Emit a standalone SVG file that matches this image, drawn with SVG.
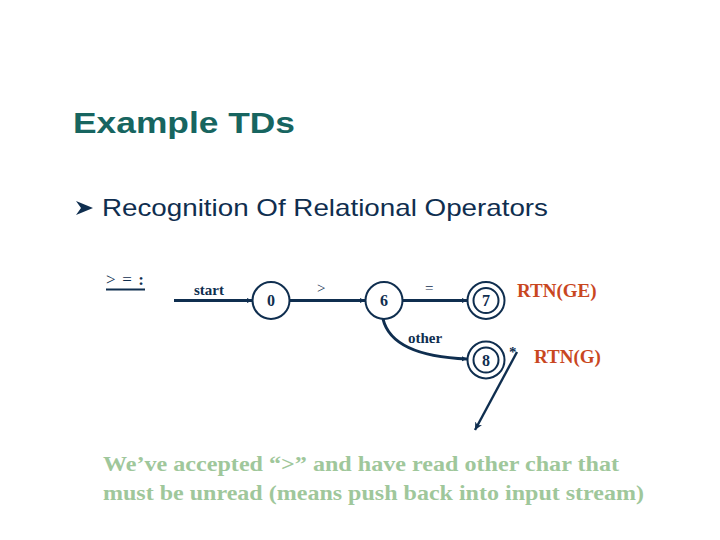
<svg xmlns="http://www.w3.org/2000/svg" width="720" height="540" viewBox="0 0 720 540">
<defs>
<marker id="ah" viewBox="0 0 10 10" refX="10" refY="5" markerWidth="1.8" markerHeight="1.8" orient="auto" markerUnits="strokeWidth">
<path d="M0,0 L10,5 L0,10 z" fill="#0f2e4f"/>
</marker>
<marker id="ah2" viewBox="0 0 10 10" refX="10" refY="5" markerWidth="3.2" markerHeight="3.2" orient="auto" markerUnits="strokeWidth">
<path d="M0,0 L10,5 L0,10 L3,5 z" fill="#0f2e4f"/>
</marker>
<style>
.edge{fill:none;stroke:#0f2e4f;stroke-width:3}
.st{fill:#fff;stroke:#0f2e4f;stroke-width:2}
.lbl{font-family:"Liberation Serif",serif;font-size:15px;fill:#0f2e4f}
.num{font-family:"Liberation Serif",serif;font-size:16px;font-weight:bold;fill:#0f2e4f;text-anchor:middle}
.rtn{font-family:"Liberation Serif",serif;font-size:19px;font-weight:bold;fill:#c9471f}
.note{font-family:"Liberation Serif",serif;font-size:22px;font-weight:bold;fill:#9fc79b}
</style>
</defs>
<rect width="720" height="540" fill="#fff"/>
<text x="73" y="133" font-family="Liberation Sans,Arial,sans-serif" font-size="30" font-weight="bold" fill="#176560" textLength="222" lengthAdjust="spacingAndGlyphs">Example TDs</text>
<path d="M76,201 L93,208 L76,215 L81,208 z" fill="#0f2e4f"/>
<text x="102" y="216" font-family="Liberation Sans,Arial,sans-serif" font-size="24" fill="#0f2e4f" textLength="446" lengthAdjust="spacingAndGlyphs">Recognition Of Relational Operators</text>
<text x="106" y="285" font-family="Liberation Serif,serif" font-size="17" fill="#0f2e4f" textLength="38" lengthAdjust="spacing">&gt; = <tspan font-weight="bold">:</tspan></text>
<line x1="106" y1="289.5" x2="145" y2="289.5" stroke="#0f2e4f" stroke-width="2"/>
<g id="edges">
<line class="edge" x1="174" y1="300.5" x2="252" y2="300.5" marker-end="url(#ah)"/>
<line class="edge" x1="290" y1="300.5" x2="365" y2="300.5" marker-end="url(#ah)"/>
<line class="edge" x1="403" y1="300.5" x2="467" y2="300.5" marker-end="url(#ah)"/>
<path class="edge" d="M383,319 Q392,356 467,359" marker-end="url(#ah)"/>
<line x1="517" y1="352" x2="475" y2="430" stroke="#0f2e4f" stroke-width="2.4" marker-end="url(#ah2)"/>
<text class="lbl" x="194" y="295" font-weight="bold">start</text>
<text class="lbl" x="317" y="293">&gt;</text>
<text class="lbl" x="425" y="293">=</text>
<text class="lbl" x="408" y="343" font-weight="bold">other</text>
<text class="lbl" x="509" y="357" font-weight="bold">*</text>
</g>
<g id="s0"><circle class="st" cx="271" cy="300.5" r="18.5"/><text class="num" x="271" y="306">0</text></g>
<g id="s6"><circle class="st" cx="384" cy="300.5" r="18.5"/><text class="num" x="384" y="306">6</text></g>
<g id="s7"><circle class="st" cx="486" cy="300.5" r="18.5"/><circle class="st" cx="486" cy="300.5" r="12.5"/><text class="num" x="486" y="306">7</text><text class="rtn" x="517" y="297">RTN(GE)</text></g>
<g id="s8"><circle class="st" cx="486" cy="360" r="18.5"/><circle class="st" cx="486" cy="360" r="12.5"/><text class="num" x="486" y="366">8</text><text class="rtn" x="534" y="363">RTN(G)</text></g>
<text class="note" x="103" y="471" textLength="516" lengthAdjust="spacingAndGlyphs">We’ve accepted “&gt;” and have read other char that</text>
<text class="note" x="103" y="500" textLength="541" lengthAdjust="spacingAndGlyphs">must be unread (means push back into input stream)</text>
</svg>
